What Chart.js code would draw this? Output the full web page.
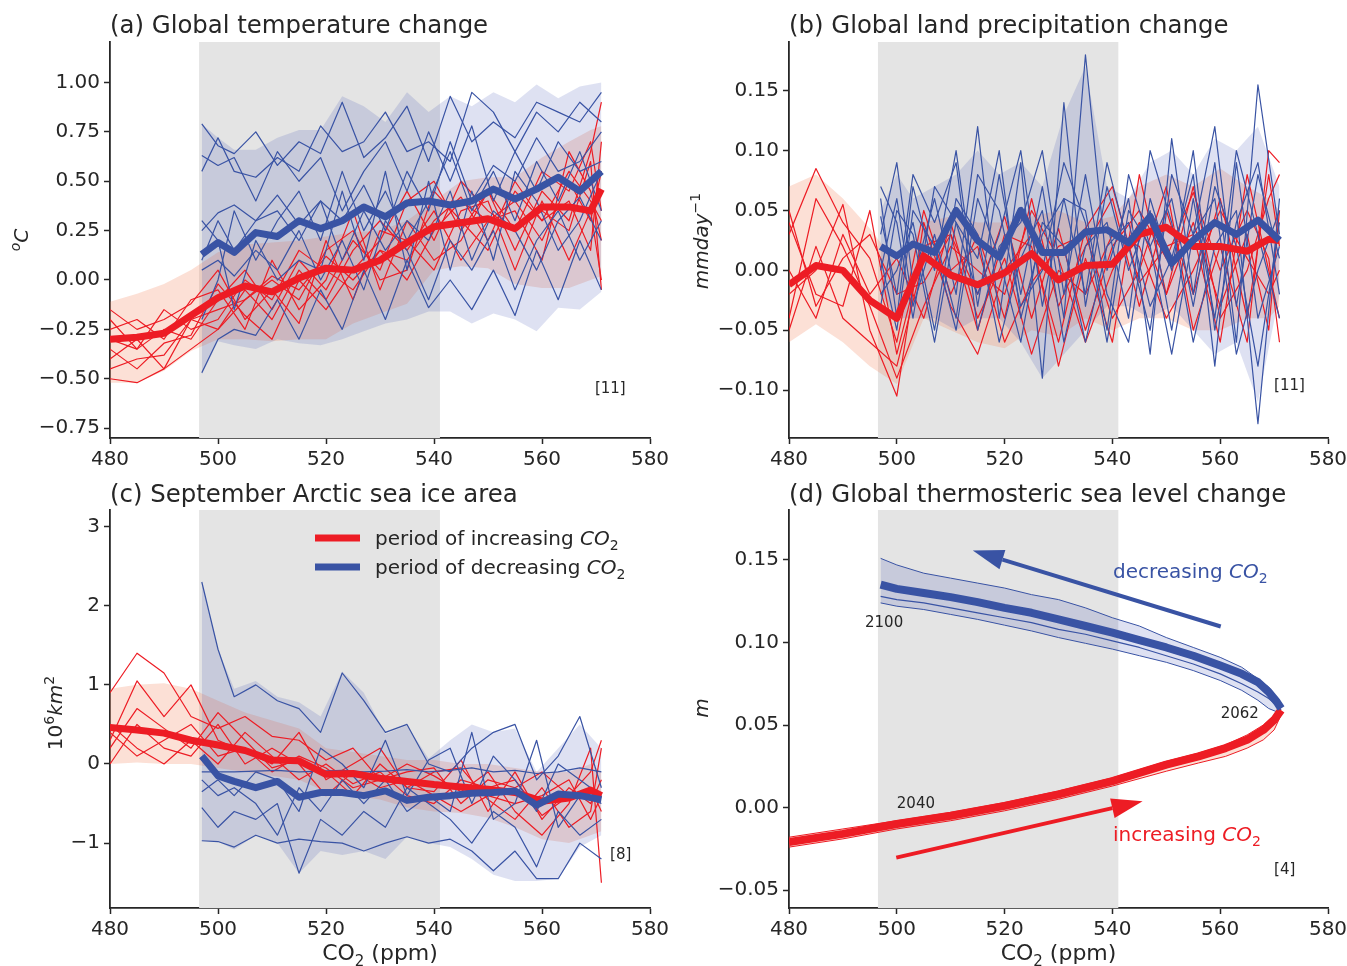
<!DOCTYPE html>
<html>
<head>
<meta charset="utf-8">
<script src="https://cdn.jsdelivr.net/npm/chart.js@4.4.1/dist/chart.umd.min.js"></script>
<style>
body { margin: 0; background: #fff; overflow: hidden; }
#wrap { position: relative; width: 1347px; height: 966px; overflow: hidden; }
canvas { position: absolute; }
</style>
</head>
<body>
<div id="wrap">
  <canvas id="pa" width="674" height="483" style="left:0;top:0"></canvas>
  <canvas id="pb" width="678" height="483" style="left:674px;top:0"></canvas>
  <canvas id="pc" width="674" height="483" style="left:0;top:483px"></canvas>
  <canvas id="pd" width="678" height="483" style="left:674px;top:483px"></canvas>
</div>
<script>
const FONT = '"DejaVu Sans", sans-serif';
const INK = '#262626';
const RED = '#ed1c24';
const BLUE = '#3953a4';
const RED_FILL = 'rgba(245,130,90,0.25)';
const BLUE_FILL = 'rgba(60,80,180,0.17)';
const SPAN = [496.5, 541.1];   // grey CO2 window

// CO2 (ppm) of the two periods
const co2Up   = [480, 485, 490, 495, 500, 505, 510, 515, 520, 525, 530, 535, 540, 545, 550, 555, 560, 565, 569, 571];
const co2Down = [571, 567, 563, 559, 555, 551, 547, 543, 539, 535, 531, 527, 523, 519, 515, 511, 507, 503, 500, 497];
// finer CO2 steps for the smooth sea level curves
const co2UpD   = [480, 490, 500, 510, 520, 530, 540, 550, 556, 561, 565, 568, 570, 571.3];
const co2DownD = [571.3, 570.5, 569, 567, 564, 560, 555, 550, 545, 540, 535, 530, 525, 520, 515, 510, 505, 500, 497];

// (a) global temperature change, degC
const aUpMean = [-0.30, -0.29, -0.27, -0.18, -0.09, -0.03, -0.06, 0.01, 0.06, 0.05, 0.10, 0.19, 0.27, 0.29, 0.31, 0.26, 0.37, 0.37, 0.35, 0.46];
const aUpHi   = [-0.11, -0.07, -0.02, 0.05, 0.14, 0.18, 0.19, 0.20, 0.22, 0.24, 0.25, 0.30, 0.40, 0.50, 0.52, 0.52, 0.62, 0.70, 0.76, 0.78];
const aUpLo   = [-0.52, -0.52, -0.46, -0.36, -0.30, -0.30, -0.31, -0.30, -0.30, -0.22, -0.17, -0.12, 0.05, 0.07, 0.06, -0.02, -0.04, -0.04, 0.00, 0.02];
const aUpRuns = [
  [-0.30, -0.35, -0.25, -0.30, -0.10, 0.05, -0.15, 0.10, -0.05, 0.20, 0.05, 0.40, 0.50, 0.25, 0.45, 0.15, 0.45, 0.30, 0.65, 0.90],
  [-0.45, -0.40, -0.38, -0.20, -0.15, -0.10, 0.02, -0.05, 0.12, 0.00, 0.15, 0.10, 0.30, 0.42, 0.20, 0.50, 0.30, 0.55, 0.40, 0.30],
  [-0.15, -0.25, -0.20, -0.12, 0.05, -0.20, -0.05, -0.22, 0.20, -0.10, 0.25, 0.20, 0.05, 0.35, 0.40, 0.05, 0.40, 0.10, 0.35, 0.00],
  [-0.50, -0.52, -0.45, -0.35, -0.25, -0.05, -0.20, 0.05, -0.10, 0.15, 0.30, 0.15, 0.35, 0.10, 0.30, 0.40, 0.20, 0.50, 0.30, 0.55],
  [-0.25, -0.20, -0.30, -0.10, -0.05, -0.25, 0.10, -0.15, 0.00, 0.35, -0.05, 0.30, 0.10, 0.20, 0.45, 0.25, 0.35, 0.25, 0.60, -0.05],
  [-0.40, -0.30, -0.45, -0.20, -0.25, -0.10, 0.00, -0.10, 0.15, 0.25, 0.00, 0.05, 0.45, 0.30, 0.15, 0.45, 0.30, 0.40, 0.15, 0.70],
  [-0.35, -0.45, -0.32, -0.28, -0.02, -0.18, -0.30, 0.00, -0.15, 0.05, 0.20, 0.45, 0.20, 0.50, 0.35, 0.25, 0.55, 0.45, 0.70, 0.35],
  [-0.20, -0.35, -0.15, -0.25, -0.20, 0.00, -0.10, 0.15, 0.05, -0.05, 0.15, 0.00, 0.25, 0.40, 0.30, 0.35, 0.10, 0.65, 0.45, 0.20]
];
const aDownMean = [0.55, 0.45, 0.52, 0.46, 0.41, 0.46, 0.40, 0.38, 0.40, 0.39, 0.32, 0.37, 0.30, 0.26, 0.30, 0.22, 0.24, 0.14, 0.19, 0.13];
const aDownHi   = [1.00, 0.98, 0.92, 0.99, 0.90, 0.95, 0.88, 0.93, 0.85, 0.95, 0.80, 0.88, 0.93, 0.76, 0.76, 0.72, 0.66, 0.66, 0.72, 0.79];
const aDownLo   = [-0.06, -0.15, -0.14, -0.26, -0.20, -0.17, -0.22, -0.16, -0.16, -0.20, -0.22, -0.26, -0.30, -0.33, -0.32, -0.30, -0.35, -0.33, -0.31, -0.48];
const aDownRuns = [
  [0.95, 0.80, 0.85, 0.90, 0.72, 0.80, 0.70, 0.93, 0.60, 0.88, 0.72, 0.62, 0.90, 0.64, 0.70, 0.58, 0.75, 0.64, 0.68, 0.79],
  [0.60, 0.55, 0.70, 0.45, 0.65, 0.40, 0.78, 0.50, 0.75, 0.45, 0.70, 0.55, 0.35, 0.62, 0.50, 0.65, 0.40, 0.62, 0.58, 0.63],
  [0.20, 0.42, 0.30, 0.05, 0.25, 0.35, 0.10, 0.45, 0.20, 0.30, 0.15, 0.35, 0.10, 0.40, 0.28, 0.43, 0.30, 0.38, 0.34, 0.25],
  [0.30, 0.10, 0.35, 0.20, -0.05, 0.25, 0.05, 0.20, -0.10, 0.15, 0.30, -0.05, 0.20, 0.00, 0.25, 0.05, 0.15, 0.02, 0.10, 0.05],
  [-0.05, 0.20, -0.10, 0.15, -0.18, 0.05, -0.15, 0.00, -0.14, 0.10, -0.20, 0.05, -0.25, -0.05, -0.30, -0.10, -0.28, -0.25, -0.30, -0.47],
  [0.75, 0.60, 0.55, 0.72, 0.50, 0.58, 0.40, 0.70, 0.35, 0.55, 0.25, 0.48, 0.30, 0.40, 0.20, 0.35, 0.30, 0.15, 0.30, 0.10],
  [0.80, 0.90, 0.75, 0.85, 0.65, 0.85, 0.95, 0.60, 0.70, 0.65, 0.85, 0.70, 0.65, 0.78, 0.55, 0.62, 0.52, 0.55, 0.72, 0.55],
  [0.35, 0.65, 0.40, 0.60, 0.30, 0.55, 0.35, 0.65, 0.40, 0.20, 0.45, 0.25, 0.55, 0.20, 0.45, 0.30, 0.10, 0.35, 0.00, -0.20],
  [0.55, 0.30, 0.15, 0.40, 0.55, 0.10, 0.45, 0.05, 0.50, 0.05, 0.55, 0.10, 0.45, 0.05, 0.10, 0.00, 0.20, -0.15, 0.20, 0.30]
];

// (b) global land precipitation change, mm/day
const bUpMean = [-0.012, 0.004, 0.000, -0.025, -0.040, 0.012, -0.004, -0.012, -0.002, 0.014, -0.008, 0.004, 0.005, 0.030, 0.036, 0.020, 0.020, 0.016, 0.026, 0.025];
const bUpHi   = [0.070, 0.080, 0.060, 0.035, 0.005, 0.040, 0.045, 0.040, 0.040, 0.045, 0.050, 0.040, 0.045, 0.070, 0.080, 0.070, 0.085, 0.070, 0.060, 0.050];
const bUpLo   = [-0.060, -0.045, -0.060, -0.080, -0.095, -0.040, -0.050, -0.060, -0.065, -0.050, -0.055, -0.040, -0.050, -0.040, -0.040, -0.050, -0.050, -0.040, -0.040, -0.030];
const bUpRuns = [
  [0.030, 0.085, 0.040, 0.010, -0.060, 0.050, -0.020, 0.030, -0.040, 0.060, -0.030, 0.020, 0.060, -0.030, 0.050, -0.020, 0.060, -0.040, 0.080, 0.020],
  [-0.020, 0.000, 0.055, -0.050, -0.105, 0.040, -0.030, -0.070, 0.000, 0.030, -0.080, 0.010, -0.060, 0.080, -0.020, 0.040, -0.030, 0.030, -0.050, 0.050],
  [0.050, -0.030, 0.010, 0.030, -0.020, -0.010, 0.030, -0.020, 0.045, -0.040, 0.035, -0.050, 0.020, 0.050, 0.010, 0.065, 0.000, 0.050, 0.010, -0.060],
  [-0.050, 0.020, -0.040, -0.060, -0.080, 0.010, 0.000, 0.020, -0.060, -0.010, 0.020, 0.030, -0.040, 0.000, 0.070, -0.050, 0.020, -0.060, 0.100, 0.090],
  [0.000, -0.040, 0.030, -0.020, 0.010, -0.040, 0.040, -0.040, 0.010, -0.070, 0.000, -0.020, 0.030, 0.020, -0.040, 0.000, 0.050, 0.010, -0.020, 0.000],
  [0.040, -0.020, -0.030, 0.050, -0.070, 0.020, 0.030, -0.050, 0.030, 0.020, -0.060, 0.035, 0.070, -0.010, 0.020, 0.030, -0.060, 0.080, 0.000, -0.040],
  [-0.040, 0.060, 0.020, -0.030, -0.090, -0.030, 0.020, 0.000, -0.020, 0.050, 0.010, -0.060, 0.000, 0.040, -0.020, 0.070, -0.040, 0.000, 0.060, 0.080]
];
const bDownMean = [0.025, 0.042, 0.030, 0.040, 0.025, 0.006, 0.045, 0.023, 0.034, 0.032, 0.015, 0.015, 0.050, 0.011, 0.025, 0.050, 0.015, 0.022, 0.012, 0.020];
const bDownHi   = [0.070, 0.120, 0.100, 0.110, 0.080, 0.100, 0.090, 0.060, 0.070, 0.170, 0.130, 0.070, 0.090, 0.080, 0.100, 0.080, 0.070, 0.060, 0.080, 0.050];
const bDownLo   = [-0.020, -0.110, -0.060, -0.070, -0.050, -0.030, -0.040, -0.030, -0.030, -0.050, -0.070, -0.090, -0.060, -0.040, -0.040, -0.050, -0.040, -0.040, -0.040, -0.020];
const bDownRuns = [
  [0.030, 0.155, -0.060, 0.090, -0.020, 0.110, -0.070, 0.060, 0.000, 0.180, -0.040, 0.070, -0.020, 0.080, -0.030, 0.100, 0.000, 0.070, -0.040, 0.060],
  [-0.040, 0.030, 0.100, -0.040, 0.060, -0.050, 0.050, 0.000, 0.070, -0.030, 0.140, -0.090, 0.090, -0.040, 0.120, -0.020, 0.060, -0.010, 0.090, 0.030],
  [0.060, -0.128, 0.050, 0.020, -0.060, 0.040, 0.100, -0.040, 0.040, 0.020, -0.060, 0.050, 0.010, -0.060, 0.030, 0.060, -0.050, 0.040, 0.000, -0.020],
  [0.010, 0.080, -0.030, 0.120, 0.030, -0.070, 0.020, 0.080, -0.050, 0.050, 0.060, -0.030, 0.100, 0.030, -0.020, 0.040, 0.070, -0.040, 0.040, 0.070],
  [0.020, -0.040, 0.090, -0.080, 0.080, 0.010, -0.030, 0.040, 0.020, -0.060, 0.020, 0.040, -0.060, 0.010, 0.060, -0.050, 0.020, 0.050, -0.050, 0.010],
  [0.050, 0.000, -0.070, 0.060, 0.030, 0.080, -0.050, 0.020, 0.090, -0.020, 0.060, 0.030, -0.040, 0.100, 0.010, 0.040, -0.060, 0.030, 0.050, -0.030],
  [-0.020, 0.090, 0.040, -0.050, 0.100, 0.000, 0.060, -0.060, -0.020, 0.080, -0.020, 0.100, 0.040, 0.020, -0.050, 0.090, 0.040, 0.080, -0.020, 0.045],
  [0.040, -0.080, 0.020, 0.070, -0.030, 0.060, 0.020, 0.050, -0.060, 0.040, 0.090, 0.000, -0.030, 0.050, 0.080, -0.040, 0.030, -0.030, 0.060, 0.000]
];

// (c) September Arctic sea ice area, 10^6 km2
const cUpMean = [0.46, 0.43, 0.39, 0.30, 0.24, 0.17, 0.05, 0.04, -0.13, -0.12, -0.18, -0.22, -0.26, -0.29, -0.32, -0.36, -0.47, -0.43, -0.33, -0.40];
const cUpHi   = [0.95, 1.00, 1.02, 0.95, 0.80, 0.65, 0.55, 0.45, 0.20, 0.15, 0.10, 0.05, 0.05, 0.00, 0.00, -0.05, -0.10, -0.10, 0.00, -0.10];
const cUpLo   = [0.00, 0.02, 0.00, 0.00, -0.05, -0.10, -0.15, -0.20, -0.35, -0.40, -0.45, -0.55, -0.60, -0.62, -0.68, -0.80, -0.95, -1.00, -0.90, -0.85];
const cUpRuns = [
  [0.90, 1.40, 1.15, 0.60, 0.45, 0.60, 0.35, 0.30, 0.05, 0.20, -0.20, 0.00, -0.15, -0.35, -0.10, -0.60, -0.90, -0.50, 0.20, -1.50],
  [0.30, 1.05, 0.60, 1.00, 0.30, 0.15, 0.00, 0.40, -0.20, 0.00, 0.20, -0.30, -0.10, -0.05, -0.45, -0.70, -0.30, -0.80, -0.60, 0.20],
  [0.50, 0.20, 0.00, 0.30, 0.00, 0.40, 0.10, -0.20, 0.00, -0.25, -0.10, -0.40, -0.50, -0.20, -0.30, -0.20, -0.65, -0.40, -0.30, -0.60],
  [0.00, 0.50, 0.20, 0.10, 0.50, 0.00, 0.20, 0.00, -0.40, -0.10, -0.30, -0.20, -0.40, -0.60, -0.40, -0.50, -0.40, -0.20, -0.70, -0.40],
  [0.40, 0.10, 0.30, 0.50, 0.10, 0.20, -0.10, 0.10, -0.05, -0.30, -0.20, -0.10, -0.05, -0.50, -0.20, -0.30, -0.10, -0.40, -0.10, 0.30],
  [0.20, 0.70, 0.45, 0.20, 0.65, 0.30, -0.05, 0.05, -0.10, -0.40, 0.00, -0.30, -0.35, 0.05, -0.60, -0.10, -0.70, -0.30, -0.50, -0.20]
];
const cDownMean = [-0.45, -0.40, -0.38, -0.52, -0.34, -0.36, -0.37, -0.40, -0.42, -0.46, -0.34, -0.40, -0.36, -0.36, -0.42, -0.22, -0.30, -0.22, -0.15, 0.10];
const cDownHi   = [0.20, 0.50, 0.20, -0.10, 0.45, 0.40, 0.50, 0.30, 0.07, 0.49, 0.38, 0.90, 1.17, 0.60, 0.78, 0.85, 1.05, 0.95, 1.45, 2.30];
const cDownLo   = [-0.90, -1.05, -1.45, -1.48, -1.48, -1.40, -1.20, -1.05, -1.00, -0.92, -1.20, -1.10, -1.15, -1.10, -1.38, -1.00, -0.90, -1.08, -0.98, -0.97];
const cDownRuns = [
  [-0.30, 0.60, 0.10, -0.20, 0.50, 0.40, 0.20, -0.10, 0.00, 0.50, 0.40, 0.80, 1.15, 0.40, 0.70, 0.80, 1.00, 0.85, 1.45, 2.30],
  [-0.10, -0.05, -0.10, -0.12, -0.08, -0.10, -0.05, -0.08, -0.10, -0.07, -0.09, -0.10, -0.08, -0.09, -0.10, -0.08, -0.09, -0.10, -0.10, -0.10],
  [-0.70, -0.90, -0.60, -1.30, -0.80, -0.60, -1.00, -0.70, -0.50, -0.30, -0.80, -0.60, -0.90, -0.70, -1.38, -0.50, -0.70, -0.60, -0.80, -0.55],
  [-1.20, -1.00, -1.45, -1.45, -1.10, -1.35, -1.10, -0.95, -1.00, -0.92, -1.00, -1.10, -1.00, -0.98, -0.95, -1.00, -0.90, -1.05, -0.98, -0.97],
  [-0.40, -0.20, 0.00, -0.60, -0.20, 0.10, -0.50, 0.20, 0.05, -0.40, 0.30, -0.30, 0.00, 0.20, -0.60, -0.20, -0.10, -0.40, -0.20, -0.35],
  [-0.50, -0.40, -0.80, 0.30, -0.50, -0.70, 0.40, -0.60, -0.40, -0.60, -0.20, -0.50, -0.20, -0.60, -0.30, -0.90, -0.50, -0.30, -0.40, -0.20]
];

// (d) global thermosteric sea level change, m
const dUpMean = [-0.021, -0.016, -0.010, -0.005, 0.001, 0.008, 0.016, 0.026, 0.031, 0.036, 0.041, 0.047, 0.053, 0.059];
const dUpHi   = [-0.018, -0.013, -0.008, -0.003, 0.003, 0.010, 0.018, 0.028, 0.033, 0.038, 0.044, 0.050, 0.056, 0.061];
const dUpLo   = [-0.024, -0.019, -0.013, -0.008, -0.002, 0.005, 0.013, 0.022, 0.027, 0.031, 0.036, 0.041, 0.047, 0.056];
const dDownMean = [0.060, 0.064, 0.070, 0.076, 0.081, 0.086, 0.092, 0.097, 0.1015, 0.106, 0.110, 0.114, 0.118, 0.121, 0.1245, 0.1275, 0.130, 0.1325, 0.135];
const dDownHi   = [0.061, 0.066, 0.073, 0.078, 0.085, 0.091, 0.097, 0.103, 0.110, 0.115, 0.121, 0.126, 0.129, 0.133, 0.136, 0.139, 0.142, 0.147, 0.151];
const dDownLo   = [0.058, 0.058, 0.060, 0.065, 0.071, 0.077, 0.083, 0.088, 0.092, 0.096, 0.0995, 0.103, 0.107, 0.1105, 0.114, 0.117, 0.120, 0.122, 0.124];
const dDownRuns = [
  [0.059, 0.062, 0.066, 0.070, 0.075, 0.081, 0.087, 0.092, 0.097, 0.101, 0.105, 0.108, 0.112, 0.115, 0.118, 0.121, 0.124, 0.126, 0.128]
];

const pts = (xs, ys) => xs.map((x, i) => ({ x: x, y: ys[i] }));
const minus = s => s.replace('-', '\u2212');

function buildSets(xUp, xDown, up, down, meanWidth, edges) {
  const ds = [];
  ds.push({ data: pts(xDown, down.mean), borderColor: BLUE, borderWidth: meanWidth, order: 1 });
  ds.push({ data: pts(xUp, up.mean), borderColor: RED, borderWidth: meanWidth, order: 2 });
  (down.runs || []).forEach(r => ds.push({ data: pts(xDown, r), borderColor: BLUE, borderWidth: 1.2, order: 3 }));
  (up.runs || []).forEach(r => ds.push({ data: pts(xUp, r), borderColor: RED, borderWidth: 1.2, order: 4 }));
  const n = ds.length;
  const edgeRed = edges ? RED : 'rgba(0,0,0,0)';
  const edgeBlue = edges ? BLUE : 'rgba(0,0,0,0)';
  ds.push({ data: pts(xUp, up.lo), borderColor: edgeRed, borderWidth: 1, order: 8 });
  ds.push({ data: pts(xUp, up.hi), borderColor: edgeRed, borderWidth: 1, fill: n, backgroundColor: RED_FILL, order: 8 });
  ds.push({ data: pts(xDown, down.lo), borderColor: edgeBlue, borderWidth: 1, order: 7 });
  ds.push({ data: pts(xDown, down.hi), borderColor: edgeBlue, borderWidth: 1, fill: n + 2, backgroundColor: BLUE_FILL, order: 7 });
  return ds;
}

// draws a run of text pieces: [text, style, size, dy]
function rich(ctx, parts, x, y, align) {
  let w = 0;
  parts.forEach(p => { ctx.font = `${p[1]} ${p[2]}px ${FONT}`; w += ctx.measureText(p[0]).width; });
  let cx = align === 'center' ? x - w / 2 : x;
  ctx.textAlign = 'left';
  ctx.textBaseline = 'alphabetic';
  parts.forEach(p => {
    ctx.font = `${p[1]} ${p[2]}px ${FONT}`;
    ctx.fillText(p[0], cx, y + (p[3] || 0));
    cx += ctx.measureText(p[0]).width;
  });
}

function arrow(ctx, x0, y0, x1, y1, color) {
  const a = Math.atan2(y1 - y0, x1 - x0);
  const hl = 31, hw = 10;
  const bx = x1 - hl * Math.cos(a), by = y1 - hl * Math.sin(a);
  ctx.strokeStyle = color;
  ctx.lineWidth = 4;
  ctx.beginPath(); ctx.moveTo(x0, y0); ctx.lineTo(bx, by); ctx.stroke();
  ctx.fillStyle = color;
  ctx.beginPath();
  ctx.moveTo(x1, y1);
  ctx.lineTo(bx + hw * Math.sin(a), by - hw * Math.cos(a));
  ctx.lineTo(bx - hw * Math.sin(a), by + hw * Math.cos(a));
  ctx.closePath(); ctx.fill();
}

const deco = {
  id: 'deco',
  beforeDatasetsDraw(chart) {
    const { ctx, chartArea: ca, scales: { x } } = chart;
    const x0 = x.getPixelForValue(SPAN[0]), x1 = x.getPixelForValue(SPAN[1]);
    ctx.save();
    ctx.fillStyle = '#e4e4e4';
    ctx.fillRect(x0, ca.top, x1 - x0, ca.bottom - ca.top);
    ctx.restore();
  },
  afterDraw(chart, args, o) {
    const { ctx, chartArea: ca, scales: { x, y } } = chart;
    ctx.save();
    ctx.fillStyle = INK;
    rich(ctx, [[o.title, '', 24.4, 0]], ca.left, o.titleY, 'left');
    // y label, rotated
    ctx.save();
    ctx.translate(o.yLabelAt[0], o.yLabelAt[1]);
    ctx.rotate(-Math.PI / 2);
    rich(ctx, o.yLabel, 0, 0, 'center');
    ctx.restore();
    rich(ctx, [[o.tag, '', 15, 0]], x.getPixelForValue(o.tagAt[0]), y.getPixelForValue(o.tagAt[1]), 'left');
    if (o.xTitle) {
      rich(ctx, [['CO', '', 22, 0], ['2', '', 15, 6], [' (ppm)', '', 22, 0]], (ca.left + ca.right) / 2, o.xTitleY, 'center');
    }
    if (o.legend) {
      o.legend.forEach((item, i) => {
        const ly = ca.top + 28 + i * 29;
        ctx.strokeStyle = item.color;
        ctx.lineWidth = 7;
        ctx.beginPath(); ctx.moveTo(315, ly); ctx.lineTo(360, ly); ctx.stroke();
        ctx.fillStyle = INK;
        rich(ctx, [[item.text, '', 20, 0], ['CO', 'italic', 20, 0], ['2', '', 14, 5]], 375, ly + 7, 'left');
      });
    }
    if (o.notes) {
      o.notes.forEach(n => {
        ctx.fillStyle = n.color || INK;
        const px = x.getPixelForValue(n.at[0]), py = y.getPixelForValue(n.at[1]);
        if (n.co2) rich(ctx, [[n.text, '', 20, 0], ['CO', 'italic', 20, 0], ['2', '', 14, 5]], px, py, 'left');
        else rich(ctx, [[n.text, '', 15, 0]], px, py, 'left');
      });
    }
    if (o.arrows) {
      o.arrows.forEach(a => arrow(ctx, x.getPixelForValue(a.from[0]), y.getPixelForValue(a.from[1]),
        x.getPixelForValue(a.to[0]), y.getPixelForValue(a.to[1]), a.color));
    }
    ctx.restore();
  }
};

Chart.defaults.font.family = FONT;
Chart.defaults.color = INK;

function makePanel(id, p) {
  const axisBase = {
    border: { display: true, color: INK, width: 1.8 },
    grid: { display: true, drawOnChartArea: false, drawTicks: true, tickLength: 6, tickWidth: 1.5, tickColor: INK },
  };
  return new Chart(document.getElementById(id), {
    type: 'line',
    data: { datasets: p.datasets },
    options: {
      responsive: false,
      animation: false,
      devicePixelRatio: 1,
      layout: { padding: p.padding },
      elements: { point: { radius: 0 }, line: { tension: 0, borderJoinStyle: 'round', fill: false } },
      plugins: { legend: { display: false }, tooltip: { enabled: false }, deco: p.deco },
      scales: {
        x: Object.assign({}, axisBase, {
          type: 'linear', min: 480, max: 580,
          ticks: { stepSize: 20, font: { size: 20 }, color: INK, padding: 4 },
          afterFit: s => { s.height = p.xHeight; }
        }),
        y: Object.assign({}, axisBase, {
          type: 'linear', min: p.yMin, max: p.yMax,
          ticks: { stepSize: p.yStep, includeBounds: false, font: { size: 20 }, color: INK, padding: 4,
            callback: v => minus(v.toFixed(p.yDec)) },
          afterFit: s => { s.width = p.yWidth; }
        })
      }
    },
    plugins: [deco]
  });
}

makePanel('pa', {
  datasets: buildSets(co2Up, co2Down, { mean: aUpMean, hi: aUpHi, lo: aUpLo, runs: aUpRuns },
                      { mean: aDownMean, hi: aDownHi, lo: aDownLo, runs: aDownRuns }, 7, false),
  yMin: -0.80, yMax: 1.205, yStep: 0.25, yDec: 2, yWidth: 110, xHeight: 45,
  padding: { top: 42, right: 24, bottom: 0, left: 0 },
  deco: { title: '(a) Global temperature change', titleY: 33,
          yLabel: [['o', 'italic', 14, -8], ['C', 'italic', 20, 0]], yLabelAt: [28, 240],
          tag: '[11]', tagAt: [569.8, -0.57] }
});

makePanel('pb', {
  datasets: buildSets(co2Up, co2Down, { mean: bUpMean, hi: bUpHi, lo: bUpLo, runs: bUpRuns },
                      { mean: bDownMean, hi: bDownHi, lo: bDownLo, runs: bDownRuns }, 7, false),
  yMin: -0.140, yMax: 0.1907, yStep: 0.05, yDec: 2, yWidth: 115, xHeight: 45,
  padding: { top: 42, right: 24, bottom: 0, left: 0 },
  deco: { title: '(b) Global land precipitation change', titleY: 33,
          yLabel: [['mmday', 'italic', 20, 0], ['\u22121', '', 14, -8]], yLabelAt: [34, 241],
          tag: '[11]', tagAt: [570, -0.100] }
});

makePanel('pc', {
  datasets: buildSets(co2Up, co2Down, { mean: cUpMean, hi: cUpHi, lo: cUpLo, runs: cUpRuns },
                      { mean: cDownMean, hi: cDownHi, lo: cDownLo, runs: cDownRuns }, 7, false),
  yMin: -1.82, yMax: 3.21, yStep: 1, yDec: 0, yWidth: 110, xHeight: 58,
  padding: { top: 27, right: 24, bottom: 0, left: 0 },
  deco: { title: '(c) September Arctic sea ice area', titleY: 19,
          yLabel: [['10', '', 20, 0], ['6', '', 14, -8], ['km', 'italic', 20, 0], ['2', '', 14, -8]], yLabelAt: [62, 230],
          tag: '[8]', tagAt: [572.6, -1.20], xTitle: true, xTitleY: 477,
          legend: [{ text: 'period of increasing ', color: RED }, { text: 'period of decreasing ', color: BLUE }] }
});

makePanel('pd', {
  datasets: buildSets(co2UpD, co2DownD, { mean: dUpMean, hi: dUpHi, lo: dUpLo, runs: [] },
                      { mean: dDownMean, hi: dDownHi, lo: dDownLo, runs: dDownRuns }, 8, true),
  yMin: -0.0609, yMax: 0.1803, yStep: 0.05, yDec: 2, yWidth: 115, xHeight: 58,
  padding: { top: 27, right: 24, bottom: 0, left: 0 },
  deco: { title: '(d) Global thermosteric sea level change', titleY: 19,
          yLabel: [['m', 'italic', 20, 0]], yLabelAt: [34, 225],
          tag: '[4]', tagAt: [570, -0.0405], xTitle: true, xTitleY: 477,
          notes: [
            { text: 'decreasing ', at: [540.1, 0.139], color: BLUE, co2: true },
            { text: 'increasing ', at: [540.1, -0.020], color: RED, co2: true },
            { text: '2100', at: [494.1, 0.1095] },
            { text: '2062', at: [560.1, 0.0544] },
            { text: '2040', at: [500.0, 0.0] }
          ],
          arrows: [
            { from: [560.1, 0.1097], to: [514.1, 0.1557], color: BLUE },
            { from: [499.9, -0.0304], to: [545.6, 0.0038], color: RED }
          ] }
});
</script>
</body>
</html>
